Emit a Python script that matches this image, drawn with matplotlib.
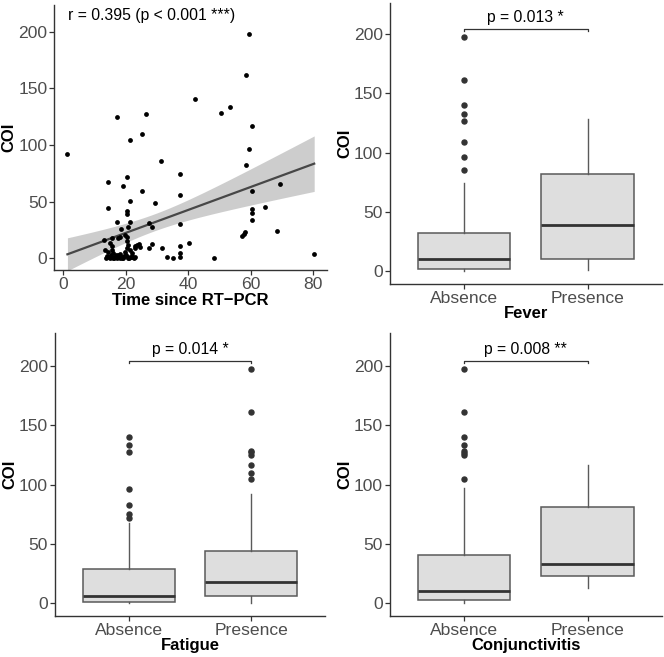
import numpy as np
import matplotlib
matplotlib.use("Agg")
import matplotlib.pyplot as plt

plt.rcParams['font.family'] = ['Liberation Sans', 'DejaVu Sans']

# ---------------- data ----------------
time_since_pcr = [1.3, 17.3, 26.4, 21.2, 25.3, 31.4, 14.3, 20.3, 19.1, 37.3,
                  25.3, 21.3, 37.3, 14.3, 29.3, 20.3, 20.3, 17.3, 21.3, 18.4,
                  20.8, 27.4, 28.3, 37.3, 15.0, 15.5, 13.1, 17.4, 20.5, 20.5,
                  24.3, 27.3, 28.5, 31.5, 23.0, 37.3, 37.3, 37.3, 40.2, 33.3,
                  35.2, 59.4, 58.5, 42.2, 50.4, 53.3, 60.4, 59.3, 58.4, 60.4,
                  69.4, 60.4, 60.4, 60.4, 64.4, 68.3, 58.2, 57.2, 57.9, 48.3,
                  80.3, 15.5, 18.1, 19.7, 13.3, 14.4, 15.5, 16.0, 16.5, 17.6,
                  18.1, 19.2, 19.7, 20.3, 20.8, 21.3, 20.8, 21.9, 22.9, 23.5,
                  24.5, 14.0, 15.0, 16.0, 17.0, 19.0, 21.0, 22.0, 23.0, 18.0,
                  20.0, 22.0, 13.8, 14.6, 15.2, 16.3, 17.2, 18.5, 19.5, 20.6,
                  21.5, 22.5, 16.8, 18.8]
coi_scatter = [92.0, 125.0, 127.0, 104.7, 109.4, 85.9, 67.6, 71.5, 64.0, 74.7,
               59.4, 50.6, 55.9, 44.1, 48.8, 42.0, 39.5, 32.3, 32.3, 25.6,
               27.9, 31.4, 27.9, 30.3, 13.8, 11.1, 16.1, 17.6, 18.8, 15.0,
               12.4, 8.8, 12.4, 8.8, 11.0, 11.0, 4.4, 1.2, 13.2, 1.1,
               0.0, 198.3, 162.0, 140.9, 128.5, 133.3, 116.5, 96.5, 82.6, 59.4,
               65.3, 43.2, 39.7, 33.8, 45.0, 24.4, 23.5, 19.7, 21.2, 0.0,
               3.8, 17.6, 19.1, 20.6, 7.3, 5.8, 7.3, 4.4, 1.4, 2.9,
               0.0, 1.4, 5.8, 8.8, 11.7, 7.3, 1.4, 4.4, 8.8, 11.7,
               10.2, 2.0, 0.5, 0.3, 1.0, 0.5, 0.3, 2.0, 1.0, 3.5,
               3.0, 0.8, 0.4, 1.2, 2.5, 0.6, 0.2, 0.9, 2.2, 0.4,
               1.6, 0.5, 3.2, 0.1]
corr_label = "r = 0.395 (p < 0.001 ***)"

groups = ["Absence", "Presence"]

# box statistics per symptom: [whislo, q1, median, q3, whishi]
fever_abs = [0.0, 1.7, 10.2, 31.6, 73.9]
fever_pre = [0.6, 9.6, 38.6, 82.1, 128.3]
fever_abs_out = [85.2, 95.9, 108.6, 126.7, 132.3, 139.9, 161.4, 197.7]
fever_pre_out = []

fatigue_abs = [0.0, 1.4, 6.2, 28.9, 68.0]
fatigue_pre = [0.0, 6.5, 18.3, 44.1, 92.1]
fatigue_abs_out = [72.2, 75.6, 83.1, 96.6, 127.5, 133.1, 140.4]
fatigue_pre_out = [104.8, 109.6, 116.6, 125.3, 127.2, 128.7, 161.5, 197.5]

conj_abs = [0.6, 2.5, 10.4, 40.4, 96.9]
conj_pre = [13.2, 23.3, 33.1, 81.2, 116.3]
conj_abs_out = [104.8, 125.0, 126.4, 128.7, 133.4, 140.4, 161.5, 197.5]
conj_pre_out = []

panels = [
    ("Fever", fever_abs, fever_pre, fever_abs_out, fever_pre_out, "p = 0.013 *"),
    ("Fatigue", fatigue_abs, fatigue_pre, fatigue_abs_out, fatigue_pre_out, "p = 0.014 *"),
    ("Conjunctivitis", conj_abs, conj_pre, conj_abs_out, conj_pre_out, "p = 0.008 **"),
]

# ---------------- style ----------------
W, H = 664, 657
fig = plt.figure(figsize=(W / 100, H / 100), dpi=100)

TICK_COL = "#4D4D4D"
AX_COL = "#333333"


def style_axes(ax):
    for s in ["top", "right"]:
        ax.spines[s].set_visible(False)
    for s in ["left", "bottom"]:
        ax.spines[s].set_color(AX_COL)
        ax.spines[s].set_linewidth(1.0)
    ax.tick_params(axis="both", colors=AX_COL, labelcolor=TICK_COL,
                   labelsize=12.6, length=3.5, width=0.9, direction="out", pad=1.5)
    ax.set_yticks([0, 50, 100, 150, 200])


def px_axes(left, top, right, bottom):
    return fig.add_axes([left / W, 1 - bottom / H, (right - left) / W, (bottom - top) / H])


# ---------------- scatter ----------------
ax = px_axes(54.3, 5, 326.7, 270)
x = np.array(time_since_pcr)
y = np.array(coi_scatter)
ax.scatter(x, y, s=12, color="black", zorder=3, linewidths=0)

n = len(x)
b, a = np.polyfit(x, y, 1)
xs = np.linspace(x.min(), x.max(), 100)
ys = a + b * xs
resid = y - (a + b * x)
se = np.sqrt(np.sum(resid ** 2) / (n - 2))
sxx = np.sum((x - x.mean()) ** 2)
tval = 1.984
ci = tval * se * np.sqrt(1 / n + (xs - x.mean()) ** 2 / sxx)
ax.fill_between(xs, ys - ci, ys + ci, color="#BDBDBD", alpha=0.75, lw=0, zorder=1)
ax.plot(xs, ys, color="#474747", lw=1.6, zorder=2)

ax.set_xlim(-2.9, 84.3)
ax.set_ylim(-10.3, 223.6)
ax.set_xticks([0, 20, 40, 60, 80])
style_axes(ax)
ax.text(1.5, 214, corr_label, fontsize=11.3, va="center", ha="left", color="black")
ax.set_xlabel("Time since RT\u2212PCR", fontsize=12, fontweight="bold", labelpad=1)
ax.set_ylabel("COI", fontsize=12, fontweight="bold", labelpad=1)

# ---------------- boxplots ----------------
boxpos = [(390, 3, 661.7, 284, -11.25, 226.5),
          (55, 333, 325, 615.7, -10.45, 227.8),
          (390, 333, 661.7, 615.7, -10.45, 227.8)]

for (name, s_abs, s_pre, o_abs, o_pre, ptxt), (l, t, r, bt, y0, y1) in zip(panels, boxpos):
    ax = px_axes(l, t, r, bt)
    stats = []
    for lab, s, o in [(groups[0], s_abs, o_abs), (groups[1], s_pre, o_pre)]:
        stats.append(dict(label=lab, whislo=s[0], q1=s[1], med=s[2], q3=s[3],
                          whishi=s[4], fliers=o))
    ax.bxp(stats, positions=[1, 2], widths=0.75, patch_artist=True,
           showcaps=False,
           boxprops=dict(facecolor="#DEDEDE", edgecolor="#5A5A5A", linewidth=1.1),
           medianprops=dict(color="#333333", linewidth=2.0),
           whiskerprops=dict(color="#5A5A5A", linewidth=1.0),
           flierprops=dict(marker="o", markerfacecolor="#333333", markeredgecolor="#333333",
                           markersize=3.6, linestyle="none"))
    ax.set_xlim(0.4, 2.6)
    ax.set_ylim(y0, y1)
    style_axes(ax)
    ax.set_xticks([1, 2])
    ax.set_xticklabels(groups)
    ax.set_xlabel(name, fontsize=12, fontweight="bold", labelpad=0)
    ax.set_ylabel("COI", fontsize=12, fontweight="bold", labelpad=1)
    # significance bracket
    yb = 204.5
    ax.plot([1, 1, 2, 2], [yb - 2, yb, yb, yb - 2], color="#333333", lw=0.9)
    ax.text(1.5, yb + 3, ptxt, fontsize=11.3, ha="center", va="bottom", color="black")

fig.savefig("out.png", dpi=100)
